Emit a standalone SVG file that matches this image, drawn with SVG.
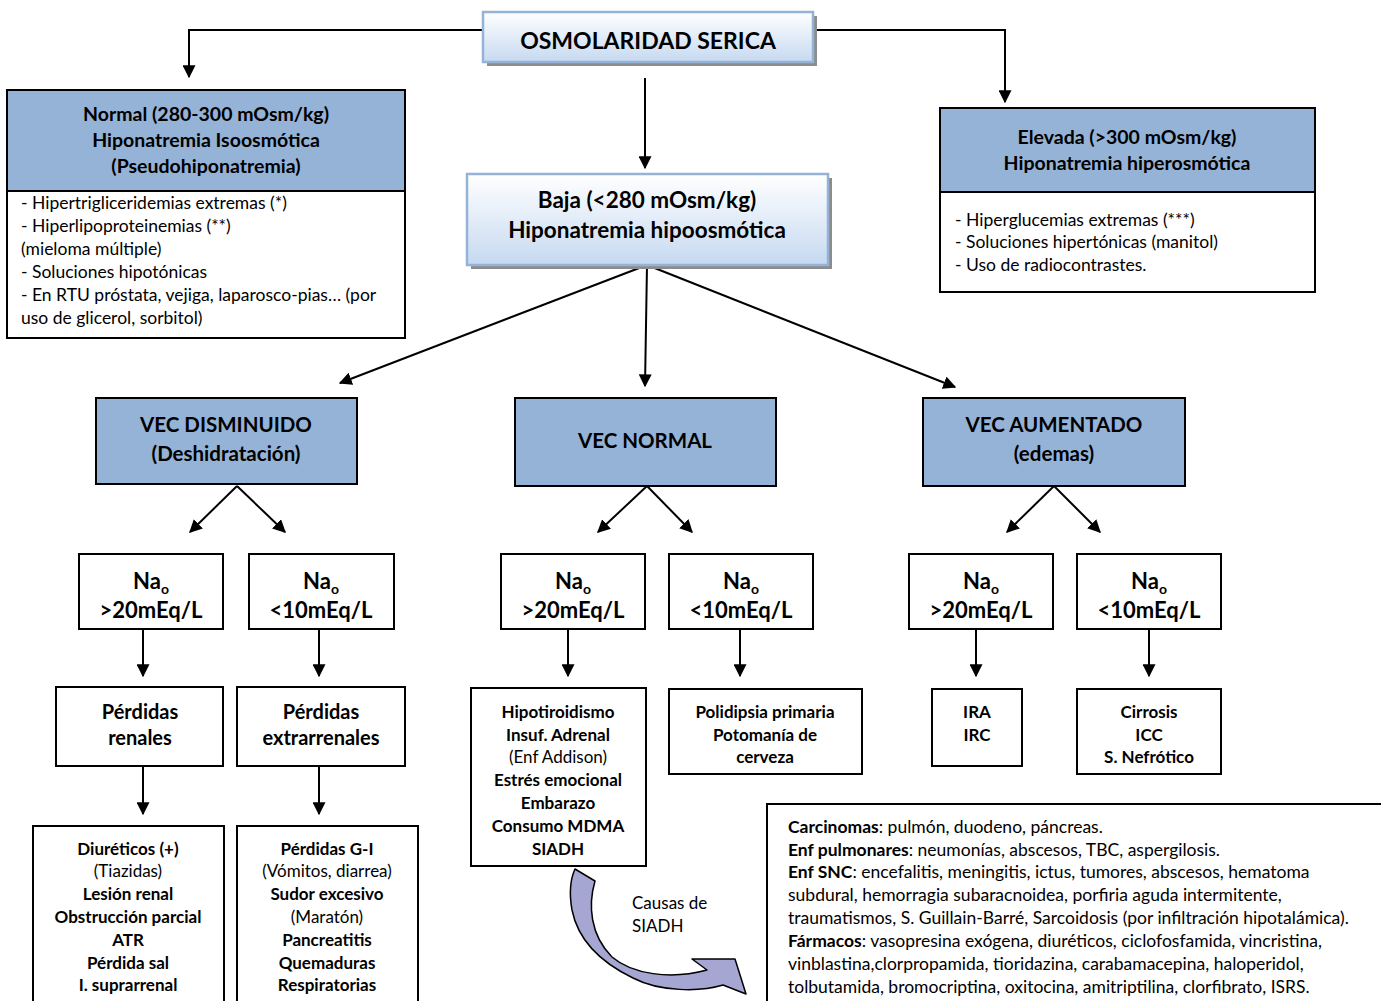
<svg xmlns="http://www.w3.org/2000/svg" width="1381" height="1001" viewBox="0 0 1381 1001">
<defs>
<linearGradient id="grad" x1="0" y1="0" x2="0" y2="1">
<stop offset="0" stop-color="#ffffff"/>
<stop offset="1" stop-color="#c6d9f1"/>
</linearGradient>
<marker id="ah" viewBox="0 0 10 10" refX="9" refY="5" markerWidth="13" markerHeight="13" markerUnits="userSpaceOnUse" orient="auto">
<path d="M0,0 L10,5 L0,10 z" fill="#000"/>
</marker>
</defs>
<style>
text{font-family:Lato,"Open Sans","Liberation Sans",sans-serif;fill:#000}
.b{font-weight:bold}
.c{text-anchor:middle}
.t22{font-size:23px}
.t20{font-size:20.5px}
.t225{font-size:22.5px}
.tna{font-size:22px}
.t18{font-size:19.5px}
.tp{font-size:20px}
.t15{font-size:17px}
.tb{font-size:17.5px}
.box{fill:#fff;stroke:#000;stroke-width:2}
.hdr{fill:#95b3d7;stroke:#000;stroke-width:2}
.gbox{fill:url(#grad);stroke:#95b3d7;stroke-width:2.5}
.shadow{fill:#8c8c8c}
.con{fill:none;stroke:#000;stroke-width:2;marker-end:url(#ah)}
</style>
<rect width="1381" height="1001" fill="#fff"/>

<g id="connectors">
<path class="con" d="M483,30 H189 V77"/>
<path class="con" d="M813,30 H1005 V102"/>
<path class="con" d="M645,78 V168"/>
<path class="con" d="M647,265 L340,383"/>
<path class="con" d="M647,265 L645,386"/>
<path class="con" d="M647,265 L955,387"/>
<path class="con" d="M237,486 L190,532"/>
<path class="con" d="M237,486 L285,532"/>
<path class="con" d="M647,486 L598,532"/>
<path class="con" d="M647,486 L692,532"/>
<path class="con" d="M1054,486 L1007,532"/>
<path class="con" d="M1054,486 L1100,532"/>
<path class="con" d="M143,629 V676"/>
<path class="con" d="M319,629 V676"/>
<path class="con" d="M568,629 V676"/>
<path class="con" d="M740,629 V676"/>
<path class="con" d="M976,629 V676"/>
<path class="con" d="M1149,629 V676"/>
<path class="con" d="M143,766 V814"/>
<path class="con" d="M319,766 V814"/>
</g>

<g id="osmolaridad">
<rect class="shadow" x="487" y="16" width="330" height="50"/>
<rect class="gbox" x="483" y="12" width="330" height="50"/>
<text class="b c t22" x="648" y="49">OSMOLARIDAD SERICA</text>
</g>

<g id="normal">
<rect class="hdr" x="7" y="90" width="398" height="101"/>
<rect class="box" x="7" y="191" width="398" height="147"/>
<text class="b c t18" x="206" y="121">Normal (280-300 mOsm/kg)</text>
<text class="b c t18" x="206" y="147">Hiponatremia Isoosmótica</text>
<text class="b c t18" x="206" y="173">(Pseudohiponatremia)</text>
<text class="tb" x="21" y="209">- Hipertrigliceridemias extremas (*)</text>
<text class="tb" x="21" y="232">- Hiperlipoproteinemias (**)</text>
<text class="tb" x="21" y="255">(mieloma múltiple)</text>
<text class="tb" x="21" y="278">- Soluciones hipotónicas</text>
<text class="tb" x="21" y="301">- En RTU próstata, vejiga, laparosco-pias… (por</text>
<text class="tb" x="21" y="324">uso de glicerol, sorbitol)</text>
</g>

<g id="baja">
<rect class="shadow" x="471" y="178" width="361" height="91"/>
<rect class="gbox" x="467" y="174" width="361" height="91"/>
<text class="b c t225" x="647" y="208">Baja (&lt;280 mOsm/kg)</text>
<text class="b c t225" x="647" y="238">Hiponatremia hipoosmótica</text>
</g>

<g id="elevada">
<rect class="hdr" x="940" y="108" width="375" height="84"/>
<rect class="box" x="940" y="192" width="375" height="100"/>
<text class="b c t18" x="1127" y="144">Elevada (&gt;300 mOsm/kg)</text>
<text class="b c t18" x="1127" y="170">Hiponatremia hiperosmótica</text>
<text class="tb" x="955" y="226">- Hiperglucemias extremas (***)</text>
<text class="tb" x="955" y="248">- Soluciones hipertónicas (manitol)</text>
<text class="tb" x="955" y="271">- Uso de radiocontrastes.</text>
</g>

<g id="vec-disminuido">
<rect class="hdr" x="96" y="398" width="261" height="86"/>
<text class="b c t20" x="226" y="432">VEC DISMINUIDO</text>
<text class="b c t20" x="226" y="461">(Deshidratación)</text>
</g>
<g id="vec-normal">
<rect class="hdr" x="515" y="398" width="261" height="88"/>
<text class="b c t20" x="645" y="448">VEC NORMAL</text>
</g>
<g id="vec-aumentado">
<rect class="hdr" x="923" y="398" width="262" height="88"/>
<text class="b c t20" x="1054" y="432">VEC AUMENTADO</text>
<text class="b c t20" x="1054" y="461">(edemas)</text>
</g>

<g id="na1">
<rect class="box" x="79" y="554" width="144" height="75"/>
<text class="b c tna" x="151" y="589">Na<tspan font-size="14" dy="5">o</tspan></text>
<text class="b c tna" x="151" y="618">&gt;20mEq/L</text>
</g>
<g id="na2">
<rect class="box" x="249" y="554" width="145" height="75"/>
<text class="b c tna" x="321" y="589">Na<tspan font-size="14" dy="5">o</tspan></text>
<text class="b c tna" x="321" y="618">&lt;10mEq/L</text>
</g>
<g id="na3">
<rect class="box" x="501" y="554" width="144" height="75"/>
<text class="b c tna" x="573" y="589">Na<tspan font-size="14" dy="5">o</tspan></text>
<text class="b c tna" x="573" y="618">&gt;20mEq/L</text>
</g>
<g id="na4">
<rect class="box" x="669" y="554" width="144" height="75"/>
<text class="b c tna" x="741" y="589">Na<tspan font-size="14" dy="5">o</tspan></text>
<text class="b c tna" x="741" y="618">&lt;10mEq/L</text>
</g>
<g id="na5">
<rect class="box" x="909" y="554" width="144" height="75"/>
<text class="b c tna" x="981" y="589">Na<tspan font-size="14" dy="5">o</tspan></text>
<text class="b c tna" x="981" y="618">&gt;20mEq/L</text>
</g>
<g id="na6">
<rect class="box" x="1077" y="554" width="144" height="75"/>
<text class="b c tna" x="1149" y="589">Na<tspan font-size="14" dy="5">o</tspan></text>
<text class="b c tna" x="1149" y="618">&lt;10mEq/L</text>
</g>

<g id="perdidas-renales">
<rect class="box" x="56" y="687" width="167" height="79"/>
<text class="b c tp" x="140" y="719">Pérdidas</text>
<text class="b c tp" x="140" y="745">renales</text>
</g>
<g id="perdidas-extrarrenales">
<rect class="box" x="237" y="687" width="168" height="79"/>
<text class="b c tp" x="321" y="719">Pérdidas</text>
<text class="b c tp" x="321" y="745">extrarrenales</text>
</g>

<g id="hipotiroidismo">
<rect class="box" x="471" y="688" width="175" height="178"/>
<text class="b c t15" x="558" y="718">Hipotiroidismo</text>
<text class="b c t15" x="558" y="741">Insuf. Adrenal</text>
<text class="c t15" x="558" y="763">(Enf Addison)</text>
<text class="b c t15" x="558" y="786">Estrés emocional</text>
<text class="b c t15" x="558" y="809">Embarazo</text>
<text class="b c t15" x="558" y="832">Consumo MDMA</text>
<text class="b c t15" x="558" y="855">SIADH</text>
</g>
<g id="polidipsia">
<rect class="box" x="669" y="689" width="193" height="85"/>
<text class="b c t15" x="765" y="718">Polidipsia primaria</text>
<text class="b c t15" x="765" y="741">Potomanía de</text>
<text class="b c t15" x="765" y="763">cerveza</text>
</g>
<g id="ira">
<rect class="box" x="932" y="689" width="90" height="77"/>
<text class="b c t15" x="977" y="718">IRA</text>
<text class="b c t15" x="977" y="741">IRC</text>
</g>
<g id="cirrosis">
<rect class="box" x="1077" y="689" width="144" height="85"/>
<text class="b c t15" x="1149" y="718">Cirrosis</text>
<text class="b c t15" x="1149" y="741">ICC</text>
<text class="b c t15" x="1149" y="763">S. Nefrótico</text>
</g>

<g id="diureticos">
<rect class="box" x="33" y="826" width="191" height="185"/>
<text class="b c t15" x="128" y="855">Diuréticos (+)</text>
<text class="c t15" x="128" y="877">(Tiazidas)</text>
<text class="b c t15" x="128" y="900">Lesión renal</text>
<text class="b c t15" x="128" y="923">Obstrucción parcial</text>
<text class="b c t15" x="128" y="946">ATR</text>
<text class="b c t15" x="128" y="969">Pérdida sal</text>
<text class="b c t15" x="128" y="991">I. suprarrenal</text>
</g>
<g id="perdidas-gi">
<rect class="box" x="237" y="826" width="181" height="185"/>
<text class="b c t15" x="327" y="855">Pérdidas G-I</text>
<text class="c t15" x="327" y="877">(Vómitos, diarrea)</text>
<text class="b c t15" x="327" y="900">Sudor excesivo</text>
<text class="c t15" x="327" y="923">(Maratón)</text>
<text class="b c t15" x="327" y="946">Pancreatitis</text>
<text class="b c t15" x="327" y="969">Quemaduras</text>
<text class="b c t15" x="327" y="991">Respiratorias</text>
</g>

<g id="causas-siadh-arrow">
<path d="M575,869 L595,881 C588,905 590,935 612,957 C632,974 670,980 707,970 L692,959 L735,959 L746,994 L723,985 C700,992 660,992 633,978 C600,962 578,940 572,910 C569,893 570,880 575,869 Z" fill="#a6a6d2" stroke="#000" stroke-width="1.5" stroke-linejoin="round"/>
<text class="t15" x="632" y="909">Causas de</text>
<text class="t15" x="632" y="932">SIADH</text>
</g>

<g id="causas-siadh">
<rect class="box" x="767" y="804" width="625" height="210"/>
<text class="tb" x="788" y="833"><tspan class="b">Carcinomas</tspan>: pulmón, duodeno, páncreas.</text>
<text class="tb" x="788" y="856"><tspan class="b">Enf pulmonares</tspan>: neumonías, abscesos, TBC, aspergilosis.</text>
<text class="tb" x="788" y="878"><tspan class="b">Enf SNC</tspan>: encefalitis, meningitis, ictus, tumores, abscesos, hematoma</text>
<text class="tb" x="788" y="901">subdural, hemorragia subaracnoidea, porfiria aguda intermitente,</text>
<text class="tb" x="788" y="924">traumatismos, S. Guillain-Barré, Sarcoidosis (por infiltración hipotalámica).</text>
<text class="tb" x="788" y="947"><tspan class="b">Fármacos</tspan>: vasopresina exógena,  diuréticos, ciclofosfamida, vincristina,</text>
<text class="tb" x="788" y="970">vinblastina,clorpropamida, tioridazina, carabamacepina, haloperidol,</text>
<text class="tb" x="788" y="993">tolbutamida, bromocriptina, oxitocina, amitriptilina, clorfibrato, ISRS.</text>
</g>
</svg>
